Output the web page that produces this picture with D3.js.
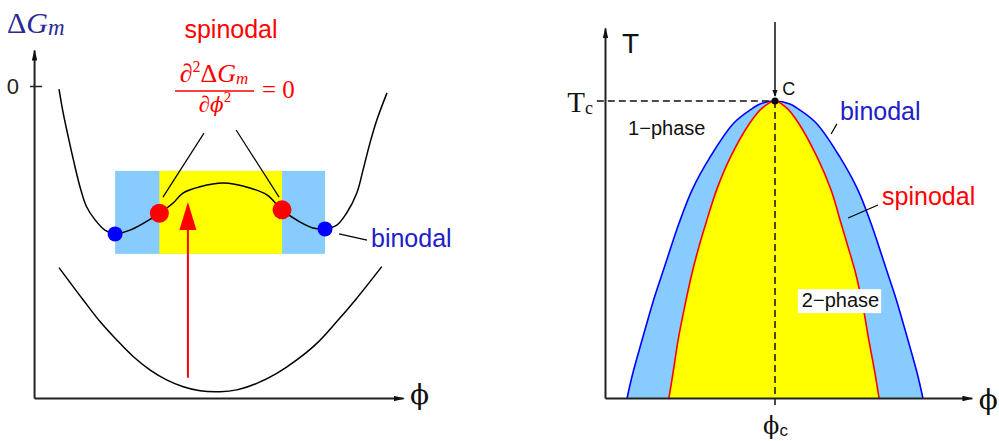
<!DOCTYPE html>
<html>
<head>
<meta charset="utf-8">
<script src="https://cdn.jsdelivr.net/npm/d3@7"></script>
<style>
  html, body { margin: 0; padding: 0; background: #fff; }
  svg { display: block; }
  .sans { font-family: "Liberation Sans", Arial, Helvetica, sans-serif; }
  .serif { font-family: "Liberation Serif", "Times New Roman", serif; }
  .phi { font-family: "DejaVu Serif", serif; }
</style>
</head>
<body>
<svg id="chart" width="999" height="441"></svg>
<script>
// ---------- Left panel: free energy of mixing vs composition ----------
// Upper curve (below Tc): double well
const upperPhi = [0, 0.013, 0.028, 0.044, 0.064, 0.084, 0.110, 0.140, 0.171, 0.216, 0.257, 0.306, 0.348, 0.378, 0.430, 0.5, 0.582, 0.634, 0.680, 0.735, 0.774, 0.811, 0.847, 0.877, 0.908, 0.927, 0.948, 0.969, 1];
const upperG   = [-0.010, -0.088, -0.162, -0.237, -0.323, -0.387, -0.429, -0.462, -0.474, -0.462, -0.440, -0.408, -0.375, -0.343, -0.323, -0.311, -0.327, -0.349, -0.397, -0.436, -0.455, -0.458, -0.446, -0.407, -0.343, -0.269, -0.183, -0.109, -0.022];
// Lower curve (above Tc): single well
const lowerPhi = [0, 0.074, 0.125, 0.176, 0.227, 0.277, 0.328, 0.379, 0.430, 0.491, 0.542, 0.603, 0.664, 0.725, 0.786, 0.847, 0.908, 0.984];
const lowerG   = [-0.582, -0.686, -0.755, -0.814, -0.868, -0.910, -0.942, -0.964, -0.977, -0.980, -0.974, -0.953, -0.921, -0.878, -0.825, -0.755, -0.680, -0.579];
// Binodal (common tangent) and spinodal (inflection) points on the upper curve
const binodalPhi  = [0.171, 0.811];
const binodalG    = [-0.474, -0.458];
const spinodalPhi = [0.306, 0.680];
const spinodalG   = [-0.408, -0.397];
// Cooling arrow
const arrowPhi = 0.393;
const arrowG   = [-0.935, -0.372];
const leftTickValues = [0];
const leftTickLabels = ["0"];

// ---------- Right panel: phase diagram ----------
const binodalCurvePhi = [0.065, 0.082, 0.109, 0.143, 0.169, 0.194, 0.218, 0.256, 0.309, 0.379, 0.435, 0.456, 0.5, 0.544, 0.565, 0.621, 0.691, 0.744, 0.782, 0.806, 0.831, 0.857, 0.891, 0.918, 0.935];
const binodalCurveT   = [0, 0.084, 0.195, 0.330, 0.421, 0.508, 0.589, 0.700, 0.811, 0.926, 0.976, 0.990, 1, 0.990, 0.976, 0.926, 0.811, 0.700, 0.589, 0.508, 0.421, 0.330, 0.195, 0.084, 0];
const spinodalCurvePhi = [0.188, 0.200, 0.215, 0.234, 0.256, 0.276, 0.297, 0.328, 0.369, 0.426, 0.462, 0.5, 0.535, 0.569, 0.624, 0.665, 0.694, 0.715, 0.737, 0.759, 0.776, 0.794, 0.806];
const spinodalCurveT   = [0, 0.084, 0.195, 0.306, 0.421, 0.508, 0.589, 0.700, 0.811, 0.926, 0.976, 1, 0.976, 0.926, 0.811, 0.700, 0.589, 0.508, 0.421, 0.306, 0.195, 0.084, 0];
const criticalPhi = 0.5;
const criticalT = 1;

const svg = d3.select("#chart");
const BLUE_FILL = "#88ccff", YELLOW = "#ffff00", RED = "#ff0000", BLUE = "#0000ff";
const TEXT_BLUE = "#2020c8", NAVY = "#2a2a96", AXIS = "#222";

// arrowhead markers
const defs = svg.append("defs");
function marker(id, len, half, color) {
  defs.append("marker").attr("id", id)
    .attr("markerUnits", "userSpaceOnUse")
    .attr("viewBox", `0 ${-half} ${len} ${2 * half}`)
    .attr("refX", len - 1).attr("refY", 0)
    .attr("markerWidth", len).attr("markerHeight", 2 * half)
    .attr("orient", "auto")
    .append("path").attr("d", `M0,${-half}L${len},0L0,${half}Z`).attr("fill", color);
}
marker("axisArrow", 11, 2.8, "#111");
marker("smallArrow", 7, 2.6, "#111");

// ================= LEFT PANEL =================
const xL = d3.scaleLinear().domain([0, 1]).range([59, 387]);
const yL = d3.scaleLinear().domain([-1, 0]).range([398, 86]);
const left = svg.append("g");

const line = (xs, ys) => d3.line().x(d => xs(d[0])).y(d => ys(d[1])).curve(d3.curveCatmullRom.alpha(0.5));

// shaded bands: binodal (blue) and spinodal (yellow) composition ranges
const bandG = [-0.272, -0.538];
left.append("rect")
  .attr("x", xL(binodalPhi[0])).attr("width", xL(binodalPhi[1]) - xL(binodalPhi[0]))
  .attr("y", yL(bandG[0])).attr("height", yL(bandG[1]) - yL(bandG[0]))
  .attr("fill", BLUE_FILL);
left.append("rect")
  .attr("x", xL(spinodalPhi[0])).attr("width", xL(spinodalPhi[1]) - xL(spinodalPhi[0]))
  .attr("y", yL(bandG[0])).attr("height", yL(bandG[1]) - yL(bandG[0]))
  .attr("fill", YELLOW);

// curves
left.append("path").datum(d3.zip(upperPhi, upperG))
  .attr("d", line(xL, yL)).attr("fill", "none").attr("stroke", "#000").attr("stroke-width", 1.5);
left.append("path").datum(d3.zip(lowerPhi, lowerG))
  .attr("d", line(xL, yL)).attr("fill", "none").attr("stroke", "#000").attr("stroke-width", 1.5);

// leader lines from formula to spinodal points
const spinLeaders = [[[0.442, -0.151], [0.317, -0.356]], [[0.540, -0.141], [0.671, -0.356]]];
spinLeaders.forEach(s => left.append("line")
  .attr("x1", xL(s[0][0])).attr("y1", yL(s[0][1])).attr("x2", xL(s[1][0])).attr("y2", yL(s[1][1]))
  .attr("stroke", "#000").attr("stroke-width", 1.2));
// binodal leader
left.append("line")
  .attr("x1", xL(0.854)).attr("y1", yL(-0.474)).attr("x2", xL(0.939)).attr("y2", yL(-0.494))
  .attr("stroke", "#000").attr("stroke-width", 1.2);

// points
left.selectAll(".bdot").data(d3.zip(binodalPhi, binodalG)).join("circle")
  .attr("cx", d => xL(d[0])).attr("cy", d => yL(d[1])).attr("r", 7.5).attr("fill", BLUE);
left.selectAll(".sdot").data(d3.zip(spinodalPhi, spinodalG)).join("circle")
  .attr("cx", d => xL(d[0])).attr("cy", d => yL(d[1])).attr("r", 9.5).attr("fill", RED);

// cooling arrow
const ax = xL(arrowPhi), aBase = yL(arrowG[0]), aTip = yL(arrowG[1]);
left.append("line").attr("x1", ax).attr("x2", ax).attr("y1", aBase).attr("y2", aTip + 20)
  .attr("stroke", RED).attr("stroke-width", 2);
left.append("path").attr("d", `M${ax},${aTip}L${ax + 8.5},${aTip + 28}L${ax - 8.5},${aTip + 28}Z`).attr("fill", RED);

// axes
const xLAxisScale = xL.copy().domain([-0.076, 1.049]).range([xL(-0.076), xL(1.049)]);
const yLAxisScale = yL.copy().domain([-1, 0.115]).range([yL(-1), yL(0.115)]);
const gxL = left.append("g").attr("transform", `translate(0,${yL(-1)})`)
  .call(d3.axisBottom(xLAxisScale).tickValues([]).tickSizeOuter(0));
const gyL = left.append("g").attr("transform", `translate(${xLAxisScale(-0.076)},0)`)
  .call(d3.axisLeft(yLAxisScale).tickValues(leftTickValues).tickFormat((d, i) => leftTickLabels[i]).tickSizeOuter(0).tickPadding(9));
[gxL, gyL].forEach(g => {
  g.select(".domain").attr("stroke", AXIS).attr("stroke-width", 2).attr("marker-end", "url(#axisArrow)");
});
gyL.selectAll(".tick line").attr("x1", -4).attr("x2", 8).attr("stroke", AXIS).attr("stroke-width", 1.5);
gyL.selectAll(".tick text").attr("class", "sans").attr("font-size", 22).attr("fill", "#222").attr("dy", "0.36em");

// labels
left.append("text").attr("class", "serif").attr("x", 7).attr("y", 33).attr("fill", NAVY).attr("font-size", 30)
  .call(t => {
    t.append("tspan").text("Δ");
    t.append("tspan").attr("font-style", "italic").text("G");
    t.append("tspan").attr("font-style", "italic").attr("font-size", 23).attr("dy", 2).text("m");
  });
left.append("text").attr("class", "phi").attr("x", xLAxisScale(1.049) + 7).attr("y", 404)
  .attr("font-size", 28).attr("fill", "#111").text("ϕ");

left.append("text").attr("class", "sans").attr("x", 231).attr("y", 38).attr("text-anchor", "middle")
  .attr("font-size", 25).attr("fill", RED).text("spinodal");

// ∂²ΔG_m / ∂ϕ² = 0
const frac = left.append("g").attr("class", "serif").attr("fill", RED);
frac.append("text").attr("x", 214).attr("y", 82).attr("text-anchor", "middle").attr("font-size", 26)
  .call(t => {
    t.append("tspan").attr("font-style", "italic").text("∂");
    t.append("tspan").attr("font-size", 16).attr("dy", -10).text("2");
    t.append("tspan").attr("dy", 10).text("Δ");
    t.append("tspan").attr("font-style", "italic").text("G");
    t.append("tspan").attr("font-style", "italic").attr("font-size", 17).attr("dy", 2).text("m");
  });
frac.append("line").attr("x1", 175).attr("x2", 254).attr("y1", 91).attr("y2", 91)
  .attr("stroke", RED).attr("stroke-width", 1.3);
frac.append("text").attr("x", 215).attr("y", 112).attr("text-anchor", "middle").attr("font-size", 23)
  .call(t => {
    t.append("tspan").attr("font-style", "italic").text("∂");
    t.append("tspan").attr("class", "phi").attr("font-style", "italic").attr("font-size", 20).text("ϕ");
    t.append("tspan").attr("font-size", 15).attr("dy", -10).text("2");
  });
frac.append("text").attr("x", 262).attr("y", 98).attr("font-size", 25).text("= 0");

left.append("text").attr("class", "sans").attr("x", 371).attr("y", 247)
  .attr("font-size", 25).attr("fill", TEXT_BLUE).text("binodal");

// ================= RIGHT PANEL =================
const xR = d3.scaleLinear().domain([0, 1]).range([605, 945]);
const yR = d3.scaleLinear().domain([0, 1]).range([398, 101]);
const right = svg.append("g");
const lineR = d3.line().x(d => xR(d[0])).y(d => yR(d[1])).curve(d3.curveCatmullRom.alpha(0.5));

right.append("path").datum(d3.zip(binodalCurvePhi, binodalCurveT))
  .attr("d", d => lineR(d) + "Z").attr("fill", BLUE_FILL).attr("stroke", "none");
right.append("path").datum(d3.zip(spinodalCurvePhi, spinodalCurveT))
  .attr("d", d => lineR(d) + "Z").attr("fill", YELLOW).attr("stroke", "none");
right.append("path").datum(d3.zip(binodalCurvePhi, binodalCurveT))
  .attr("d", lineR).attr("fill", "none").attr("stroke", BLUE).attr("stroke-width", 1.6);
right.append("path").datum(d3.zip(spinodalCurvePhi, spinodalCurveT))
  .attr("d", lineR).attr("fill", "none").attr("stroke", RED).attr("stroke-width", 1.6);

// critical point guides
right.append("line").attr("x1", xR(-0.024)).attr("x2", xR(criticalPhi)).attr("y1", yR(criticalT)).attr("y2", yR(criticalT))
  .attr("stroke", "#111").attr("stroke-width", 1.5).attr("stroke-dasharray", "7,4");
right.append("line").attr("x1", xR(criticalPhi)).attr("x2", xR(criticalPhi)).attr("y1", yR(criticalT)).attr("y2", yR(-0.03))
  .attr("stroke", "#111").attr("stroke-width", 1.5).attr("stroke-dasharray", "7,4");
right.append("line").attr("x1", xR(criticalPhi)).attr("x2", xR(criticalPhi)).attr("y1", yR(1.266)).attr("y2", yR(1.017))
  .attr("stroke", "#111").attr("stroke-width", 1.5).attr("marker-end", "url(#smallArrow)");
right.append("circle").attr("cx", xR(criticalPhi)).attr("cy", yR(criticalT)).attr("r", 3.5).attr("fill", "#000");

// leader lines
right.append("line").attr("x1", xR(0.665)).attr("y1", yR(0.889)).attr("x2", xR(0.682)).attr("y2", yR(0.923))
  .attr("stroke", "#000").attr("stroke-width", 1.2);
right.append("line").attr("x1", xR(0.715)).attr("y1", yR(0.606)).attr("x2", xR(0.803)).attr("y2", yR(0.650))
  .attr("stroke", "#000").attr("stroke-width", 1.2);

// axes
const xRAxisScale = xR.copy().domain([0, 1.079]).range([xR(0), xR(1.079)]);
const yRAxisScale = yR.copy().domain([0, 1.246]).range([yR(0), yR(1.246)]);
const gxR = right.append("g").attr("transform", `translate(0,${yR(0)})`)
  .call(d3.axisBottom(xRAxisScale).tickValues([criticalPhi]).tickSize(0).tickFormat("").tickSizeOuter(0));
const gyR = right.append("g").attr("transform", `translate(${xR(0)},0)`)
  .call(d3.axisLeft(yRAxisScale).tickValues([criticalT]).tickSize(0).tickFormat("").tickSizeOuter(0));
[gxR, gyR].forEach(g => {
  g.select(".domain").attr("stroke", AXIS).attr("stroke-width", 2).attr("marker-end", "url(#axisArrow)");
});
// tick labels T_c and ϕ_c
gyR.select(".tick text").attr("class", "serif").attr("x", -12).attr("dy", 10).attr("font-size", 29)
  .attr("fill", "#111").attr("text-anchor", "end")
  .call(t => {
    t.append("tspan").text("T");
    t.append("tspan").attr("font-size", 18).attr("dy", 2).text("c");
  });
gxR.select(".tick text").attr("class", "phi").attr("y", 36).attr("dy", 0).attr("font-size", 24)
  .attr("fill", "#111").attr("text-anchor", "middle")
  .call(t => {
    t.append("tspan").text("ϕ");
    t.append("tspan").attr("class", "sans").attr("font-size", 17).attr("dy", 2).text("c");
  });

right.append("text").attr("class", "sans").attr("x", xR(0.05)).attr("y", 53).attr("font-size", 28).attr("fill", "#111").text("T");
right.append("text").attr("class", "phi").attr("x", xRAxisScale(1.079) + 7).attr("y", 409)
  .attr("font-size", 28).attr("fill", "#111").text("ϕ");
right.append("text").attr("class", "sans").attr("x", xR(0.521)).attr("y", yR(1.02)).attr("font-size", 18).attr("fill", "#111").text("C");
right.append("text").attr("class", "sans").attr("x", xR(0.068)).attr("y", yR(0.886)).attr("font-size", 20).attr("fill", "#111").text("1−phase");
right.append("text").attr("class", "sans").attr("x", xR(0.691)).attr("y", yR(0.936)).attr("font-size", 25).attr("fill", TEXT_BLUE).text("binodal");
right.append("text").attr("class", "sans").attr("x", xR(0.815)).attr("y", yR(0.65)).attr("font-size", 25).attr("fill", RED).text("spinodal");

const twoPhase = right.append("text").attr("class", "sans").attr("x", xR(0.579)).attr("y", yR(0.306))
  .attr("font-size", 20).attr("fill", "#111").text("2−phase");
const bb = twoPhase.node().getBBox();
right.insert("rect", () => twoPhase.node())
  .attr("x", bb.x - 4).attr("y", bb.y).attr("width", bb.width + 6).attr("height", bb.height + 2)
  .attr("fill", "#fff");
</script>
</body>
</html>
